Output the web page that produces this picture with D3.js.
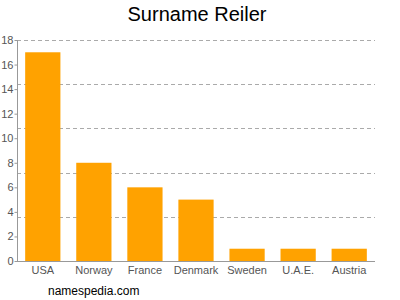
<!DOCTYPE html>
<html>
<head>
<meta charset="utf-8">
<script src="https://cdn.jsdelivr.net/npm/d3@7"></script>
<style>
body { margin: 0; background: #fff; }
svg text { font-family: "Liberation Sans", Arial, sans-serif; }
</style>
</head>
<body>
<div id="chart"></div>
<script>
var countries = ["USA", "Norway", "France", "Denmark", "Sweden", "U.A.E.", "Austria"];
var counts = [17, 8, 6, 5, 1, 1, 1];
var yTicks = [0, 2, 4, 6, 8, 10, 12, 14, 16, 18];
var gridValues = [3.6, 7.2, 10.8, 14.4, 18];

function init(){
    var w = 400;
    var h = 300;
    var left = 17, right = 375, top = 40, bottom = 261;

    var dataset = countries.map(function(c, i){ return {country: c, number: counts[i]}; });

    var svg = d3.select("#chart")
        .append("svg")
        .attr("width", w)
        .attr("height", h);

    var xScale = d3.scaleBand()
        .domain(countries)
        .range([left, right])
        .paddingInner(0.31)
        .paddingOuter(0.16);

    var yScale = d3.scaleLinear()
        .domain([0, 18])
        .range([bottom, top]);

    // dashed grid
    svg.selectAll(".grid")
        .data(gridValues)
        .enter().append("line")
        .attr("x1", left)
        .attr("x2", right)
        .attr("y1", function(d){ return Math.round(yScale(d)) + 0.5; })
        .attr("y2", function(d){ return Math.round(yScale(d)) + 0.5; })
        .attr("stroke", "#aaa")
        .attr("stroke-dasharray", "4,3");

    svg.selectAll(".bar")
        .data(dataset)
        .enter().append("rect")
        .attr("x", function(d){ return xScale(d.country); })
        .attr("y", function(d){ return yScale(d.number); })
        .attr("width", xScale.bandwidth())
        .attr("height", function(d){ return bottom - yScale(d.number); })
        .attr("fill", "#FFA200");

    var yAxis = d3.axisLeft(yScale).tickValues(yTicks).tickSize(3).tickPadding(1);
    var gy = svg.append("g")
        .attr("transform", "translate(" + (left + 0.5) + ",0)")
        .call(yAxis);
    gy.select(".domain").attr("stroke", "#999").attr("d", "M0," + top + "V" + (bottom + 0.5));
    gy.selectAll(".tick line").attr("stroke", "#999");
    gy.selectAll("text").attr("fill", "#555").attr("font-size", 11);

    var xAxis = d3.axisBottom(xScale).tickSize(0).tickPadding(5);
    var gx = svg.append("g")
        .attr("transform", "translate(0," + (bottom + 0.5) + ")")
        .call(xAxis);
    gx.select(".domain").attr("stroke", "#999").attr("d", "M" + left + ",0H" + right);
    gx.selectAll("text").attr("fill", "#555").attr("font-size", 11);

    svg.append("text")
        .attr("x", 197)
        .attr("y", 21)
        .attr("text-anchor", "middle")
        .attr("font-size", 20)
        .attr("fill", "#000")
        .text("Surname Reiler");

    svg.append("text")
        .attr("x", 48)
        .attr("y", 295)
        .attr("font-size", 12)
        .attr("fill", "#000")
        .text("namespedia.com");
}
window.onload = init;
</script>
</body>
</html>
